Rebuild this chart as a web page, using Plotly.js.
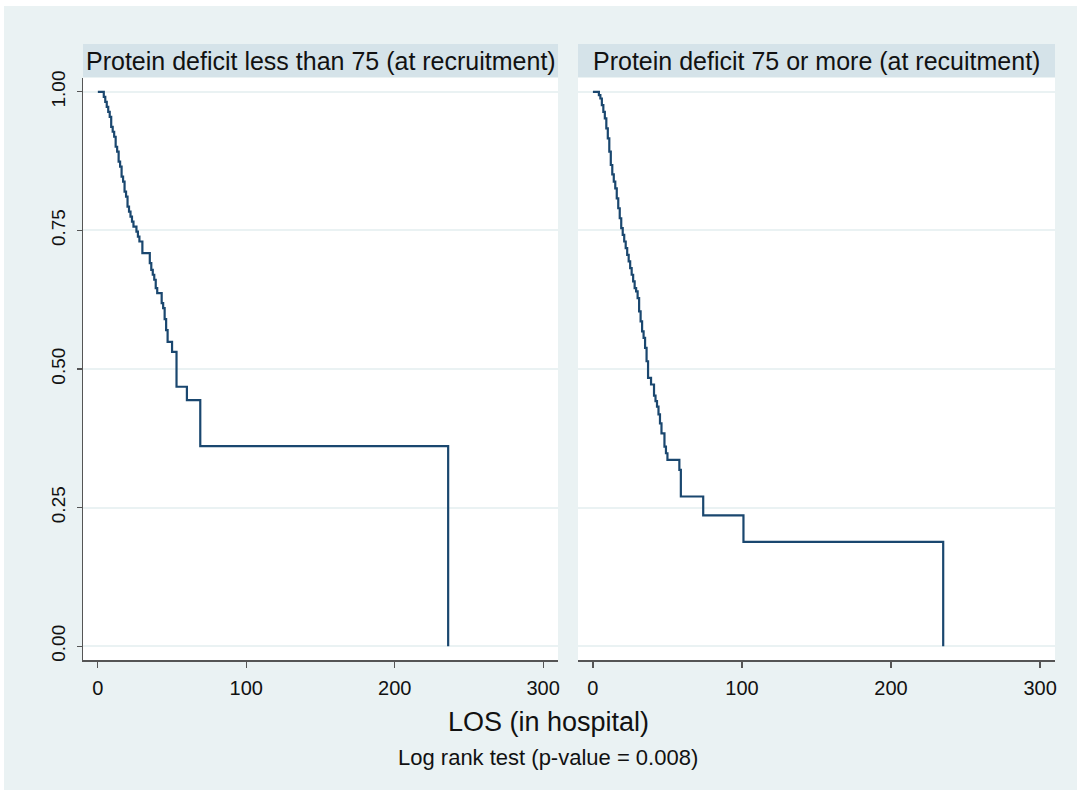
<!DOCTYPE html>
<html><head><meta charset="utf-8">
<script src="https://cdn.plot.ly/plotly-3.0.1.min.js"></script>
<style>html,body{margin:0;padding:0;background:#fff}#chart{width:1081px;height:794px}</style>
</head><body><div id="chart"></div>
<script>
// ---- data ----
const panelTitles = ["Protein deficit less than 75 (at recruitment)", "Protein deficit 75 or more (at recuitment)"];
const xTitle = "LOS (in hospital)";
const noteText = "Log rank test (p-value = 0.008)";
const xTickVals = [0, 100, 200, 300];
const yTickVals = [0, 0.25, 0.5, 0.75, 1];
const yTickText = ["0.00", "0.25", "0.50", "0.75", "1.00"];

const leftTime = [0, 4, 5, 6, 7, 8, 9, 10, 11, 12, 13, 14, 15, 16, 17, 18, 19, 20, 21, 22, 23, 24, 26, 27, 28, 30, 35, 36, 37, 38, 39, 40, 43, 44, 45, 46, 47, 50, 53, 60, 69, 236];
const leftSurv = [1, 0.991, 0.982, 0.973, 0.964, 0.955, 0.937, 0.928, 0.919, 0.901, 0.892, 0.874, 0.865, 0.847, 0.838, 0.820, 0.811, 0.793, 0.784, 0.775, 0.766, 0.757, 0.748, 0.739, 0.730, 0.709, 0.691, 0.679, 0.670, 0.661, 0.646, 0.637, 0.619, 0.610, 0.590, 0.570, 0.549, 0.531, 0.468, 0.444, 0.361, 0];

const rightTime = [0, 4, 5, 6, 7, 8, 9, 10, 11, 12, 13, 14, 15, 16, 17, 18, 19, 20, 21, 22, 23, 24, 25, 26, 27, 28, 29, 30, 31, 32, 33, 34, 35, 36, 37, 39, 41, 42, 43, 44, 45, 46, 48, 49, 50, 58, 59, 74, 101, 235];
const rightSurv = [1, 0.994, 0.988, 0.976, 0.964, 0.952, 0.934, 0.916, 0.892, 0.868, 0.851, 0.838, 0.826, 0.808, 0.790, 0.772, 0.754, 0.742, 0.730, 0.718, 0.706, 0.694, 0.682, 0.670, 0.658, 0.646, 0.640, 0.628, 0.604, 0.586, 0.568, 0.556, 0.538, 0.514, 0.484, 0.472, 0.452, 0.442, 0.432, 0.418, 0.402, 0.384, 0.360, 0.348, 0.336, 0.318, 0.270, 0.236, 0.188, 0];

// ---- styling / layout ----
const W = 1081, H = 794;
const px = v => v / W;
const py = v => (H - v) / H;
const FONT = "Arial, 'Liberation Sans', sans-serif";
const lineColor = "#1A476F";
const bg = "#EAF2F3";
const stripColor = "#D5E3E9";
const axisColor = "#555555";
const textColor = "#111111";

const panels = [[83, 558], [578, 1055]];
const plotTop = 78, plotBottom = 660;

const traces = [
  {x: leftTime, y: leftSurv, xaxis: "x", yaxis: "y", type: "scatter", mode: "lines",
   line: {shape: "hv", color: lineColor, width: 2.2}, hoverinfo: "skip", showlegend: false},
  {x: rightTime, y: rightSurv, xaxis: "x2", yaxis: "y2", type: "scatter", mode: "lines",
   line: {shape: "hv", color: lineColor, width: 2.2}, hoverinfo: "skip", showlegend: false}
];

const xCommon = {
  range: [-10, 310], tickvals: xTickVals, ticks: "outside", ticklen: 6, tickwidth: 1.2,
  tickcolor: axisColor, showline: true, linecolor: axisColor, linewidth: 1.5, ticklabelstandoff: 3,
  showgrid: false, zeroline: false, tickfont: {family: FONT, size: 20, color: textColor}, fixedrange: true
};
const yCommon = {
  range: [-0.025, 1.025], tickvals: yTickVals, ticktext: yTickText, showgrid: true,
  gridcolor: bg, gridwidth: 2, zeroline: false, fixedrange: true
};

const layout = {
  width: W, height: H,
  margin: {l: 0, r: 0, t: 0, b: 0},
  paper_bgcolor: bg, plot_bgcolor: "#ffffff",
  showlegend: false,
  xaxis: Object.assign({}, xCommon, {domain: [px(panels[0][0]), px(panels[0][1])], anchor: "y"}),
  xaxis2: Object.assign({}, xCommon, {domain: [px(panels[1][0]), px(panels[1][1])], anchor: "y2"}),
  yaxis: Object.assign({}, yCommon, {domain: [py(plotBottom), py(plotTop)], anchor: "x",
    ticks: "outside", ticklen: 5, tickwidth: 1.2, tickcolor: axisColor, showline: true,
    linecolor: axisColor, linewidth: 1.5, tickangle: -90, ticklabelstandoff: 4,
    tickfont: {family: FONT, size: 19, color: textColor}}),
  yaxis2: Object.assign({}, yCommon, {domain: [py(plotBottom), py(plotTop)], anchor: "x2",
    showticklabels: false, ticks: "", showline: false}),
  shapes: [
    {type: "rect", xref: "paper", yref: "paper", x0: px(panels[0][0]), x1: px(panels[0][1]), y0: py(77), y1: py(44),
     fillcolor: stripColor, line: {width: 0}, layer: "below"},
    {type: "rect", xref: "paper", yref: "paper", x0: px(panels[1][0]), x1: px(panels[1][1]), y0: py(77), y1: py(44),
     fillcolor: stripColor, line: {width: 0}, layer: "below"},
    // white outer frame
    {type: "rect", xref: "paper", yref: "paper", x0: 0, x1: 1, y0: py(6), y1: 1, fillcolor: "#fff", line: {width: 0}, layer: "above"},
    {type: "rect", xref: "paper", yref: "paper", x0: 0, x1: px(4), y0: 0, y1: 1, fillcolor: "#fff", line: {width: 0}, layer: "above"},
    {type: "rect", xref: "paper", yref: "paper", x0: px(1077), x1: 1, y0: 0, y1: 1, fillcolor: "#fff", line: {width: 0}, layer: "above"},
    {type: "rect", xref: "paper", yref: "paper", x0: 0, x1: 1, y0: 0, y1: py(790), fillcolor: "#fff", line: {width: 0}, layer: "above"}
  ],
  annotations: [
    {text: panelTitles[0], xref: "paper", yref: "paper", x: px((panels[0][0] + panels[0][1]) / 2), y: py(60.5),
     xanchor: "center", yanchor: "middle", showarrow: false, font: {family: FONT, size: 25, color: textColor}},
    {text: panelTitles[1], xref: "paper", yref: "paper", x: px((panels[1][0] + panels[1][1]) / 2), y: py(60.5),
     xanchor: "center", yanchor: "middle", showarrow: false, font: {family: FONT, size: 25, color: textColor}},
    {text: xTitle, xref: "paper", yref: "paper", x: px(548), y: py(722), xanchor: "center", yanchor: "middle",
     showarrow: false, font: {family: FONT, size: 27, color: textColor}},
    {text: noteText, xref: "paper", yref: "paper", x: px(548), y: py(757), xanchor: "center", yanchor: "middle",
     showarrow: false, font: {family: FONT, size: 22, color: textColor}}
  ]
};

Plotly.newPlot("chart", traces, layout, {displayModeBar: false, staticPlot: true});
</script></body></html>
